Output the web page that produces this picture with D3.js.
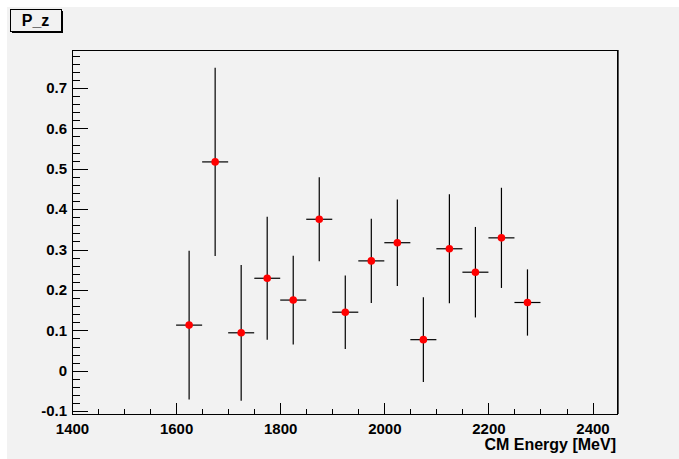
<!DOCTYPE html>
<html><head><meta charset="utf-8">
<script src="https://cdn.jsdelivr.net/npm/d3@7"></script>
<style>html,body{margin:0;padding:0;background:#fff;} svg{display:block;}</style>
</head><body>
<script>
// ---- data ----
const energies = [1625,1675,1725,1775,1825,1875,1925,1975,2025,2075,2125,2175,2225,2275];
const pzValues = [0.113,0.517,0.094,0.229,0.175,0.375,0.145,0.272,0.317,0.077,0.302,0.244,0.329,0.169];
const pzErrors = [0.184,0.233,0.168,0.152,0.110,0.104,0.091,0.104,0.107,0.105,0.135,0.112,0.124,0.082];
const binHalfWidth = 25;
const xTickLabels = [1400,1600,1800,2000,2200,2400];
const yTickLabels = [-0.1,0,0.1,0.2,0.3,0.4,0.5,0.6,0.7];
const xTitle = "CM Energy [MeV]";
const boxTitle = "P_z";

const W = 679, H = 459;
const L = 72, R = 617, T = 50, B = 414;
const font = "'Liberation Sans', Arial, Helvetica, sans-serif";

const svg = d3.select("body").append("svg").attr("width", W).attr("height", H);
svg.append("rect").attr("width", W).attr("height", H).attr("fill", "#ffffff");
svg.append("rect").attr("x", 7).attr("y", 7).attr("width", W - 7).attr("height", H - 7).attr("fill", "#f2f2f2");

const x = d3.scaleLinear().domain([1400, 2447]).range([L, R]);
const y = d3.scaleLinear().domain([-0.107, 0.794]).range([B, T]);

// frame
svg.append("rect").attr("x", L).attr("y", T).attr("width", R - L).attr("height", B - T)
  .attr("fill", "#f2f2f2").attr("stroke", "#000").attr("stroke-width", 1).attr("shape-rendering", "crispEdges");
svg.append("line").attr("x1", R + 1).attr("x2", R + 1).attr("y1", T).attr("y2", B)
  .attr("stroke", "#555").attr("stroke-width", 1).attr("shape-rendering", "crispEdges");

// minor ticks
const xMinor = d3.range(1400, 2447, 50);
const yMinor = d3.range(-10, 80, 2).map(v => v / 100);
svg.append("g").attr("transform", `translate(0,${B})`)
  .call(d3.axisBottom(x).tickValues(xMinor).tickSize(-5.5).tickFormat(""))
  .call(g => g.select(".domain").remove());
svg.append("g").attr("transform", `translate(${L},0)`)
  .call(d3.axisLeft(y).tickValues(yMinor).tickSize(-8).tickFormat(""))
  .call(g => g.select(".domain").remove());

// major ticks + labels
const gx = svg.append("g").attr("transform", `translate(0,${B})`)
  .call(d3.axisBottom(x).tickValues(xTickLabels).tickSize(-11).tickPadding(9).tickFormat(d3.format("d")));
gx.select(".domain").remove();
const gy = svg.append("g").attr("transform", `translate(${L},0)`)
  .call(d3.axisLeft(y).tickValues(yTickLabels).tickSize(-16).tickPadding(5)
    .tickFormat(d => d === 0 ? "0" : d.toFixed(1)));
gy.select(".domain").remove();
svg.selectAll(".tick line").attr("stroke", "#000").attr("shape-rendering", "crispEdges");
svg.selectAll(".tick text").attr("font-family", font).attr("font-weight", "bold")
  .attr("font-size", 15).attr("fill", "#000");

// axis title
svg.append("text").attr("x", R - 1).attr("y", 450).attr("text-anchor", "end")
  .attr("font-family", font).attr("font-weight", "bold").attr("font-size", 16)
  .text(xTitle);

// data points
const pts = energies.map((e, i) => ({e, v: pzValues[i], err: pzErrors[i]}));
const gp = svg.append("g");
gp.selectAll("line.v").data(pts).join("line").attr("class", "v")
  .attr("x1", d => x(d.e)).attr("x2", d => x(d.e))
  .attr("y1", d => y(d.v + d.err)).attr("y2", d => y(d.v - d.err))
  .attr("stroke", "#000").attr("stroke-width", 1.2);
gp.selectAll("line.h").data(pts).join("line").attr("class", "h")
  .attr("x1", d => x(d.e - binHalfWidth)).attr("x2", d => x(d.e + binHalfWidth))
  .attr("y1", d => y(d.v)).attr("y2", d => y(d.v))
  .attr("stroke", "#000").attr("stroke-width", 1.2);
gp.selectAll("circle").data(pts).join("circle")
  .attr("cx", d => x(d.e)).attr("cy", d => y(d.v)).attr("r", 3.8)
  .attr("fill", "#ff0000");

// P_z box
const bx = 10, by = 9, bw = 51, bh = 22;
svg.append("rect").attr("x", bx + 2).attr("y", by + 2).attr("width", bw).attr("height", bh).attr("fill", "#000");
svg.append("rect").attr("x", bx).attr("y", by).attr("width", bw).attr("height", bh)
  .attr("fill", "#f2f2f2").attr("stroke", "#000").attr("stroke-width", 1).attr("shape-rendering", "crispEdges");
svg.append("text").attr("x", bx + bw / 2).attr("y", by + 17).attr("text-anchor", "middle")
  .attr("font-family", font).attr("font-weight", "bold").attr("font-size", 16).text(boxTitle);
</script>
</body></html>
